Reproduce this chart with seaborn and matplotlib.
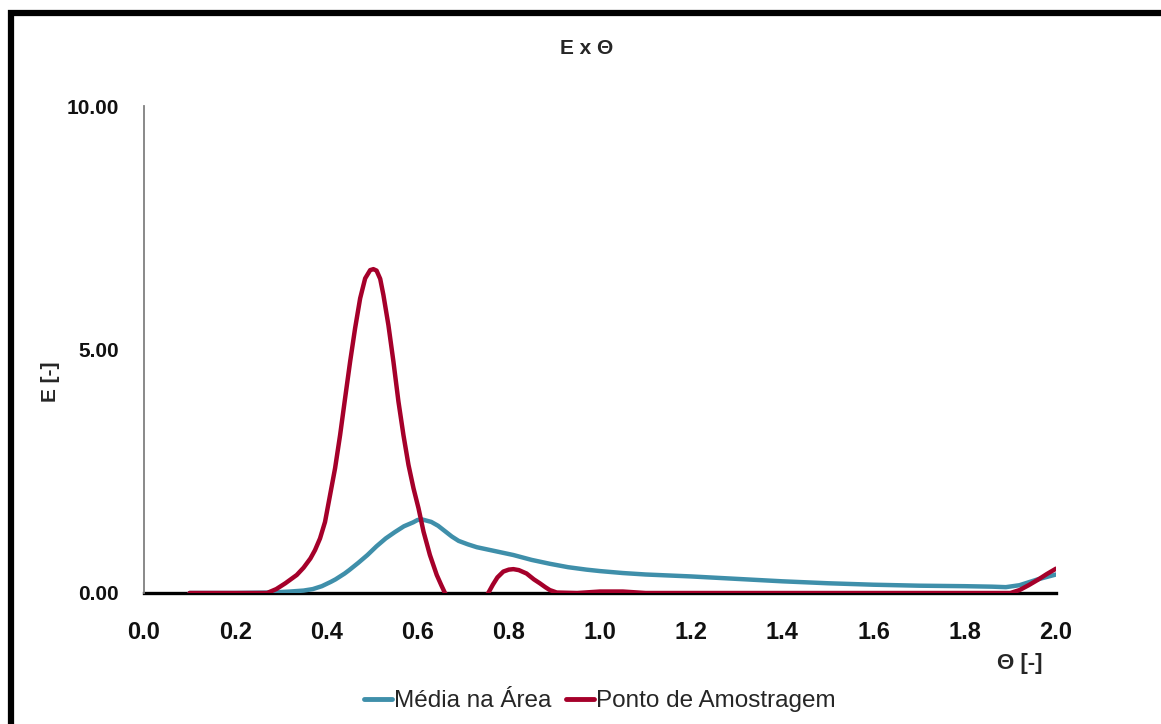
import numpy as np
import pandas as pd
import seaborn as sns
import matplotlib
matplotlib.use("Agg")
import matplotlib.pyplot as plt
from matplotlib.patches import Rectangle
from matplotlib.ticker import FormatStrFormatter, MultipleLocator

# Média na Área
theta_media = [0.10, 0.20, 0.28, 0.32, 0.35, 0.37, 0.39, 0.41, 0.42, 0.44, 0.45,
               0.47, 0.49, 0.51, 0.53, 0.55, 0.57, 0.59, 0.60, 0.61, 0.63, 0.645,
               0.66, 0.675, 0.69, 0.71, 0.73, 0.75, 0.78, 0.81, 0.85, 0.89, 0.93,
               0.97, 1.00, 1.05, 1.10, 1.20, 1.30, 1.40, 1.50, 1.60, 1.70, 1.80,
               1.86, 1.89, 1.92, 1.94, 1.96, 1.98, 2.00]
e_media = [0.00, 0.00, 0.01, 0.03, 0.05, 0.08, 0.14, 0.23, 0.28, 0.40, 0.47,
           0.62, 0.78, 0.96, 1.12, 1.25, 1.37, 1.45, 1.50, 1.51, 1.46, 1.38,
           1.27, 1.16, 1.07, 1.00, 0.94, 0.90, 0.84, 0.78, 0.68, 0.60, 0.53,
           0.48, 0.45, 0.41, 0.38, 0.34, 0.29, 0.24, 0.20, 0.17, 0.15, 0.14,
           0.13, 0.12, 0.16, 0.22, 0.28, 0.33, 0.38]

# Ponto de Amostragem
theta_ponto = [0.10, 0.20, 0.27, 0.29, 0.31, 0.335, 0.35, 0.365, 0.375, 0.386,
               0.397, 0.408, 0.419, 0.430, 0.441, 0.452, 0.463, 0.474, 0.485,
               0.496, 0.503, 0.510, 0.518, 0.525, 0.536, 0.547, 0.558, 0.569,
               0.580, 0.591, 0.602, 0.613, 0.627, 0.642, 0.652, 0.660, 0.68,
               0.70, 0.72, 0.74, 0.755, 0.765, 0.775, 0.788, 0.800, 0.810,
               0.822, 0.839, 0.855, 0.868, 0.880, 0.890, 0.905, 0.95, 1.00,
               1.05, 1.10, 1.30, 1.50, 1.70, 1.90, 1.92, 1.94, 1.96, 1.98, 2.00]
e_ponto = [0.00, 0.00, 0.00, 0.08, 0.20, 0.37, 0.52, 0.71, 0.88, 1.12,
           1.46, 2.01, 2.56, 3.24, 4.00, 4.75, 5.44, 6.05, 6.46,
           6.63, 6.65, 6.62, 6.45, 6.12, 5.50, 4.75, 3.93, 3.24,
           2.63, 2.15, 1.74, 1.26, 0.78, 0.37, 0.16, 0.00, -0.30,
           -0.45, -0.40, -0.20, 0.00, 0.17, 0.32, 0.44, 0.48, 0.49,
           0.47, 0.40, 0.28, 0.20, 0.12, 0.06, 0.01, 0.00, 0.03,
           0.03, 0.00, 0.00, 0.00, 0.00, 0.00, 0.06, 0.16, 0.27, 0.39, 0.50]

series_names = ["Média na Área", "Ponto de Amostragem"]
series_colors = ["#3F8FAA", "#A5002A"]

df = pd.concat([
    pd.DataFrame({"theta": theta_media, "E": e_media, "serie": series_names[0]}),
    pd.DataFrame({"theta": theta_ponto, "E": e_ponto, "serie": series_names[1]}),
], ignore_index=True)

sns.set_style("white")
plt.rcParams["font.family"] = ["Liberation Sans", "DejaVu Sans"]

W, H = 1161, 724
fig = plt.figure(figsize=(W / 100, H / 100), dpi=100)
ax = fig.add_axes([144 / W, (H - 593) / H, (1056 - 144) / W, (593 - 106) / H])

sns.lineplot(data=df, x="theta", y="E", hue="serie", hue_order=series_names,
             palette=series_colors, linewidth=3.2, sort=False,
             estimator=None, ax=ax, solid_joinstyle="round",
             solid_capstyle="round")

ax.set_xlim(0, 2.0)
ax.set_ylim(0, 10)
ax.xaxis.set_major_locator(MultipleLocator(0.2))
ax.xaxis.set_major_formatter(FormatStrFormatter("%.1f"))
ax.yaxis.set_major_locator(MultipleLocator(5))
ax.yaxis.set_major_formatter(FormatStrFormatter("%.2f"))

for side in ["top", "right"]:
    ax.spines[side].set_visible(False)
ax.spines["left"].set_color("#808080")
ax.spines["left"].set_linewidth(1.3)
ax.spines["bottom"].set_color("black")
ax.spines["bottom"].set_linewidth(2.4)
ax.spines["bottom"].set_zorder(1)

ax.tick_params(axis="x", direction="out", length=7, width=1.8, color="black",
               labelsize=17, pad=13, labelcolor="#111111")
ax.tick_params(axis="y", direction="out", length=6, width=1.8, color="black",
               labelsize=15, pad=12, labelcolor="#111111")
for lbl in ax.get_xticklabels() + ax.get_yticklabels():
    lbl.set_fontweight("bold")

ax.set_xlabel("")
ax.set_ylabel("")

fig.text(587 / W, 1 - 48 / H, "E x Θ", ha="center", va="center",
         fontsize=15, fontweight="bold")
fig.text(50 / W, 1 - 382 / H, "E [-]", ha="center", va="center",
         rotation=90, fontsize=15, fontweight="bold")
fig.text(1020 / W, 1 - 664 / H, "Θ [-]", ha="center", va="center",
         fontsize=16, fontweight="bold")

leg = ax.legend(loc="center", bbox_to_anchor=(600 / W, 1 - 701 / H),
                bbox_transform=fig.transFigure, ncol=2, frameon=False,
                fontsize=17.5, handlelength=1.15, handletextpad=0.08,
                columnspacing=0.6)
for h in leg.get_lines():
    h.set_linewidth(3.5)

# Outer frame around the chart area
frame = Rectangle((10.5 / W, -0.1), 2.0, 1 - 13 / H + 0.1,
                  transform=fig.transFigure, fill=False, edgecolor="black",
                  linewidth=4.5, clip_on=False)
fig.patches.append(frame)

fig.savefig("out.png", dpi=100, facecolor="white")
